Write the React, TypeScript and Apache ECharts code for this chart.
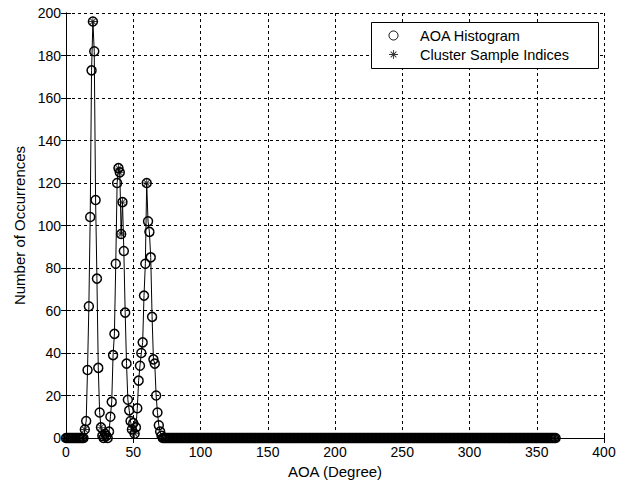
import React, { useEffect, useRef } from "react";
import * as echarts from "echarts";

// Histogram of angle-of-arrival estimates, 1-degree bins.
// Counts for 0..73 degrees; every bin above 73 is empty.
const lowBinCounts: number[] = [
  0, 0, 0, 0, 0, 0, 0, 0, 0, 0, 0, 0, 0, 0, // 0-13
  4, 8, 32, 62, 104, 173, 196, 182, 112, 75, 33, 12, 5, // 14-26
  1, 0, 2, 1, 0, 3, // 27-32
  10, 17, 39, 49, 82, 120, 127, 125, 96, 111, 88, 59, 35, 18, 13, 8, // 33-48
  4, 7, 2, 5, // 49-52
  14, 27, 34, 40, 45, 67, 82, 120, 102, 97, 85, 57, 37, 35, 20, 12, 6, 3, 1, // 53-71
  0, 0, // 72-73
];
const lastBin = 364;

// Bins picked out as cluster samples.
const clusterBins: number[] = [14, 20, 26, 27, 29, 30, 39, 40, 41, 42, 49, 51, 60];

const xTicks = { min: 0, max: 400, interval: 50 };
const yTicks = { min: 0, max: 200, interval: 20 };

const seriesNames = ["AOA Histogram", "Cluster Sample Indices"];

// Asterisk marker: a plus and a cross made of thin bars.
const asterisk =
  "path://M4.5 0H5.5V10H4.5Z M0 4.5H10V5.5H0Z M1.5 2.2L2.2 1.5L8.5 7.8L7.8 8.5Z M7.8 1.5L8.5 2.2L2.2 8.5L1.5 7.8Z";

const FONT = "'Liberation Sans', Arial, sans-serif";

function binCount(deg: number): number {
  return deg < lowBinCounts.length ? lowBinCounts[deg] : 0;
}

export default function App() {
  const ref = useRef<HTMLDivElement>(null);

  useEffect(() => {
    if (!ref.current) return;
    const chart = echarts.init(ref.current, undefined, { renderer: "svg" });

    const histData: number[][] = [];
    for (let d = 0; d <= lastBin; d++) histData.push([d, binCount(d)]);
    const clusterData = clusterBins.map((d) => [d, binCount(d)]);

    const axisLine = { show: true, lineStyle: { color: "#000", width: 1 } };
    const axisTick = { show: true, inside: true, length: 5, lineStyle: { color: "#000" } };
    const splitLine = { show: true, lineStyle: { color: "#000", width: 1, type: [3, 3] as number[] } };
    const tickLabel = { color: "#000", fontSize: 14, fontFamily: FONT };
    const nameStyle = { color: "#000", fontSize: 15, fontFamily: FONT };

    chart.setOption({
      animation: false,
      backgroundColor: "#fff",
      grid: { left: 66, top: 13, right: 21, bottom: 47, containLabel: false },
      xAxis: [
        {
          type: "value",
          ...xTicks,
          position: "bottom",
          axisLine,
          axisTick,
          splitLine,
          axisLabel: { ...tickLabel, margin: 7 },
          name: "AOA (Degree)",
          nameLocation: "middle",
          nameGap: 26,
          nameTextStyle: nameStyle,
        },
        {
          type: "value",
          ...xTicks,
          position: "top",
          axisLine,
          axisTick,
          splitLine: { show: false },
          axisLabel: { show: false },
        },
      ],
      yAxis: [
        {
          type: "value",
          ...yTicks,
          position: "left",
          axisLine,
          axisTick,
          splitLine,
          axisLabel: { ...tickLabel, margin: 5 },
          name: "Number of Occurrences",
          nameLocation: "middle",
          nameGap: 38,
          nameTextStyle: nameStyle,
        },
        {
          type: "value",
          ...yTicks,
          position: "right",
          axisLine,
          axisTick,
          splitLine: { show: false },
          axisLabel: { show: false },
        },
      ],
      legend: {
        orient: "vertical",
        left: 388.5,
        top: 28,
        z: 10,
        padding: 0,
        itemWidth: 9,
        itemHeight: 9,
        itemGap: 4,
        selectedMode: false,
        textStyle: {
          color: "#000",
          fontSize: 14.5,
          fontFamily: FONT,
          lineHeight: 14,
          padding: [0, 0, 0, 17],
        },
        data: [
          {
            name: seriesNames[0],
            icon: "circle",
            itemStyle: { color: "rgba(0,0,0,0)", borderColor: "#000", borderWidth: 1 },
          },
          {
            name: seriesNames[1],
            icon: asterisk,
            itemStyle: { color: "#000", borderWidth: 0 },
          },
        ],
      },
      graphic: [
        {
          type: "rect",
          z: 9,
          shape: { x: 371.5, y: 22.5, width: 227, height: 46 },
          style: { fill: "#fff", stroke: "#000", lineWidth: 1 },
        },
      ],
      series: [
        {
          name: seriesNames[0],
          type: "line",
          data: histData,
          symbol: "circle",
          symbolSize: 9,
          showAllSymbol: true,
          lineStyle: { color: "#000", width: 1 },
          itemStyle: { color: "rgba(0,0,0,0)", borderColor: "#000", borderWidth: 1.5 },
          emphasis: { disabled: true },
          silent: true,
          z: 2,
        },
        {
          name: seriesNames[1],
          type: "scatter",
          data: clusterData,
          symbol: asterisk,
          symbolSize: 9,
          itemStyle: { color: "#000" },
          emphasis: { disabled: true },
          silent: true,
          z: 3,
        },
      ],
    });

    return () => chart.dispose();
  }, []);

  return (
    <div
      ref={ref}
      style={{ position: "fixed", left: 0, top: 0, width: 625, height: 485, background: "#fff" }}
    />
  );
}
